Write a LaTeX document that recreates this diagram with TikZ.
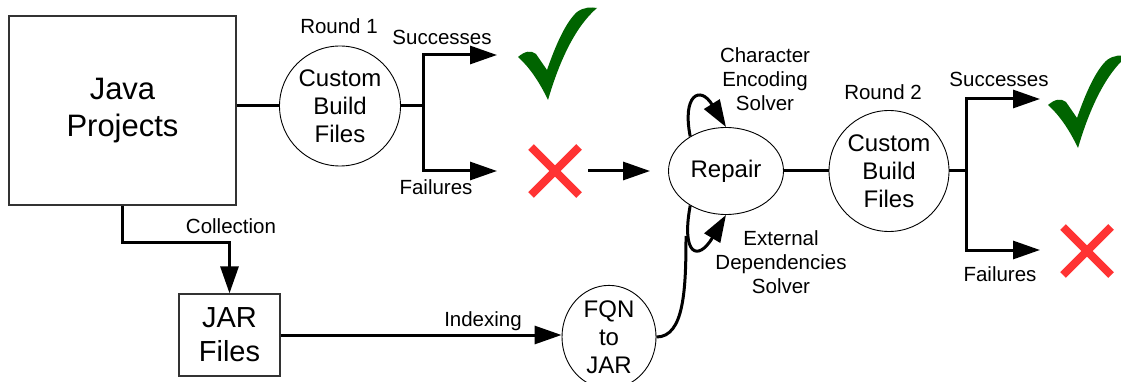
\documentclass[tikz,border=0pt]{standalone}
\usepackage{fontspec}
\setmainfont{Liberation Sans}
\usetikzlibrary{arrows.meta,shapes.geometric}
\definecolor{okgreen}{RGB}{0,100,0}
\definecolor{failred}{RGB}{255,51,51}
\tikzset{
	bigtext/.style={font=\fontsize{31}{37}\selectfont, align=center},
	jartext/.style={font=\fontsize{29}{34}\selectfont, align=center},
	midtext/.style={font=\fontsize{24}{28}\selectfont, align=center},
	lbl/.style={font=\fontsize{20.5}{24}\selectfont, align=center, inner sep=0pt},
	boxnode/.style={rectangle, draw=black!80, line width=1.3pt, inner sep=0pt},
	roundnode/.style={ellipse, draw, line width=0.9pt, inner sep=0pt},
	wire/.style={line width=3pt},
	flow/.style={line width=3pt, -{Triangle[length=27pt,width=18pt]}},
}
\def\okmark(#1){\fill[okgreen, shift={(#1)}] (-40,3) .. controls (-33,-3) and (-27,-4) .. (-22,0) -- (-11,16) .. controls (-2,-10) and (8,-32) .. (19,-42) .. controls (26,-47) and (33,-47) .. (39,-46) .. controls (18,-28) and (2,5) .. (-10,46) .. controls (-20,25) and (-30,12) .. cycle;}
\def\failmark(#1){\draw[failred, line width=8pt, shift={(#1)}] (-24,-24) -- (24,24) (-24,24) -- (24,-24);}

\begin{document}
\begin{tikzpicture}[x=1pt,y=-1pt]
				\useasboundingbox (0,0) rectangle (1121,382);
				
				\node[boxnode, minimum width=227pt, minimum height=189pt, bigtext] (java) at (122.5,110.5) {Java\\Projects};
				\node[boxnode, minimum width=101pt, minimum height=82pt, jartext] (jar) at (229.5,335) {JAR\\Files};
				
				\node[roundnode, minimum width=121pt, minimum height=120pt, midtext] (build1) at (340,106) {Custom\\Build\\Files};
				\node[roundnode, minimum width=115pt, minimum height=87pt, midtext] (repair) at (726,171) {Repair};
				\node[roundnode, minimum width=120pt, minimum height=121pt, midtext] (build2) at (889,171) {Custom\\Build\\Files};
				\node[roundnode, minimum width=94pt, minimum height=95pt, midtext] (fqn) at (609,337) {FQN\\to\\JAR};
				
				\node[minimum size=56pt] (fail1) at (555,171) {};
				\node[minimum size=56pt] (fail2) at (1087,251) {};
				\failmark(fail1)
				\failmark(fail2)
				\okmark(558,54)
				\okmark(1088,102)
				
				\node[lbl] (round1) at (339,26) {Round 1};
				\node[lbl] (succ1) at (442,37) {Successes};
				\node[lbl] (fails1) at (436,187) {Failures};
				\node[lbl] (round2) at (883,92) {Round 2};
				\node[lbl] (succ2) at (999,79) {Successes};
				\node[lbl] (fails2) at (1000,274) {Failures};
				\node[lbl] (collect) at (231,226) {Collection};
				\node[lbl] (index) at (483,321) {Indexing};
				\node[lbl] (encsolver) at (765,79) {Character\\Encoding\\Solver};
				\node[lbl] (depsolver) at (781,262) {External\\Dependencies\\Solver};
				
				\coordinate (split1) at (423,106);
				\coordinate (ok1in) at (497,55);
				\coordinate (fail1in) at (497,171);
				\coordinate (split2) at (966,171);
				\coordinate (ok2in) at (1040,99);
				\coordinate (fail2in) at (1040,250);
				\coordinate (merge) at (686,236);
				
				\draw[wire] (java.east |- build1.west) -- (build1.west);
				\draw[wire] (build1.east) -- (split1);
				\draw[flow] (split1) |- (ok1in);
				\draw[flow] (split1) |- (fail1in);
				
				\draw[flow, shorten <=5pt, shorten >=18pt] (fail1.east) -- (repair.west);
				\draw[wire] (repair) -- (build2);
				\draw[wire] (build2.east) -- (split2);
				\draw[flow] (split2) |- (ok2in);
				\draw[flow] (split2) |- (fail2in);
				
				\draw[flow] (java.south) -- ++(0,37) -| (jar.north);
				\draw[flow] (jar.east) -- (jar.east -| fqn.west);
				
				\draw[flow] (repair.136) .. controls (682,95) and (700,85) .. (repair.north);
				\draw[flow] (repair.224) .. controls (681,255) and (698,262) .. (repair.south);
				\draw[wire] (fqn.east) .. controls (684,337) and (686,290) .. (merge);
			\end{tikzpicture}
\end{document}
